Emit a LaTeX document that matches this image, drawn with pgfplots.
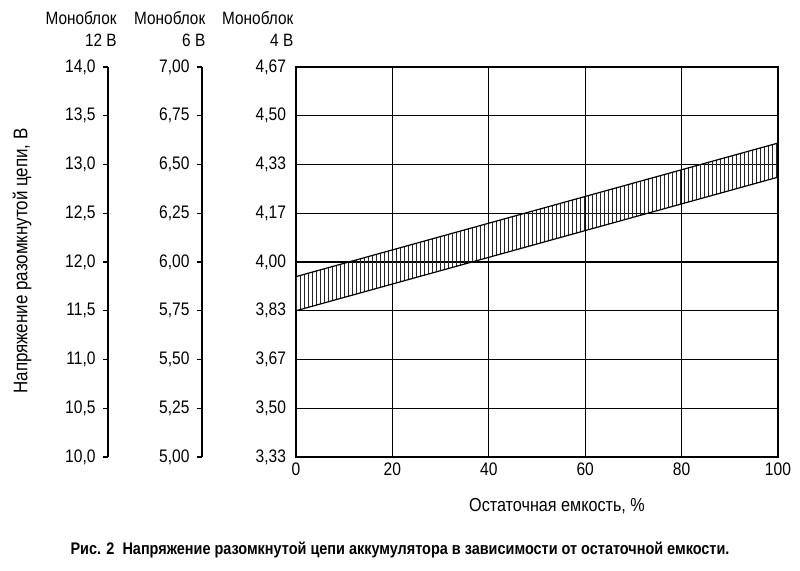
\documentclass[border=0pt]{standalone}
\usepackage{fontspec}
\setmainfont[FakeStretch=0.86]{Liberation Sans}
\usepackage{pgfplots}
\pgfplotsset{compat=1.18}
\usepgfplotslibrary{fillbetween}
\usetikzlibrary{patterns.meta}

% 1 px of the reference = 0.75pt
\pgfplotsset{
  /pgf/number format/assume math mode=true,
  sideaxis/.style={
    scale only axis, width=1pt, height=292.5pt,
    xmin=0, xmax=1, ymin=10, ymax=14,
    hide x axis, axis y line*=left,
    y axis line style={-, line width=1.1pt},
    tick align=outside, major tick length=3.8pt,
    tick style={line width=0.9pt, black},
    ytick={10,10.5,...,14},
    yticklabel style={font=\fontsize{13.6}{15}\selectfont, xshift=-2pt},
  },
}

\begin{document}
\begin{tikzpicture}
% main axis (4 V scale on the left)
\begin{axis}[
    scale only axis, width=361.5pt, height=292.5pt,
    xmin=0, xmax=100, ymin=10, ymax=14,
    xtick={0,20,...,100},
    ytick={10,10.5,...,14},
    yticklabels={{3,33},{3,50},{3,67},{3,83},{4,00},{4,17},{4,33},{4,50},{4,67}},
    major tick length=0pt,
    xmajorgrids, ymajorgrids,
    grid style={black, line width=0.9pt},
    axis line style={line width=1.2pt},
    tick label style={font=\fontsize{13.6}{15}\selectfont},
    yticklabel style={xshift=-4pt},
    xticklabel style={yshift=-1pt},
]
\addplot[name path=lo, black, line width=0.9pt] coordinates {(0,11.50) (100,12.87)};
\addplot[name path=hi, black, line width=0.9pt] coordinates {(0,11.85) (100,13.22)};
\addplot[pattern={Lines[angle=90,distance=3pt,line width=0.5pt]}, pattern color=black!85]
    fill between[of=lo and hi];
\end{axis}

% 6 V scale
\begin{axis}[sideaxis, at={(-70.5pt,0pt)},
    yticklabels={{5,00},{5,25},{5,50},{5,75},{6,00},{6,25},{6,50},{6,75},{7,00}}]
\end{axis}

% 12 V scale
\begin{axis}[sideaxis, at={(-141pt,0pt)},
    yticklabels={{10,0},{10,5},{11,0},{11,5},{12,0},{12,5},{13,0},{13,5},{14,0}}]
\end{axis}

% headers
\begin{scope}[every node/.style={font=\fontsize{13.4}{16.5}\selectfont, align=right, anchor=east}]
\node at (-131pt,321pt) {Моноблок\\12 В};
\node at (-64.5pt,321pt) {Моноблок\\6 В};
\node at (1.5pt,321pt) {Моноблок\\4 В};
\end{scope}

\node[rotate=90, font=\fontsize{14.8}{16}\selectfont] at (-205.5pt,147pt) {Напряжение разомкнутой цепи, В};
\node[font=\fontsize{14.1}{16}\selectfont] at (195.75pt,-36.75pt) {Остаточная емкость, \%};
\node[font=\bfseries\fontsize{12.6}{14}\selectfont] at (78pt,-69.75pt)
  {Рис. 2\ \ Напряжение разомкнутой цепи аккумулятора в зависимости от остаточной емкости.};

% page frame: 800 x 571 px
\path (-222pt,-85.5pt) rectangle (378pt,342.75pt);
\end{tikzpicture}
\end{document}
